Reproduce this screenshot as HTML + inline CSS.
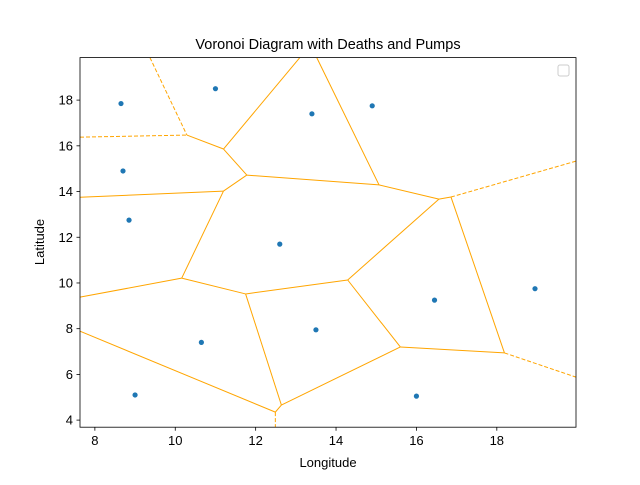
<!DOCTYPE html>
<html><head><meta charset="utf-8"><style>
body{margin:0;background:#fff;}
svg{font-family:"Liberation Sans","DejaVu Sans",sans-serif;}
</style></head><body>
<svg id="chart" width="640" height="480">
<rect width="640" height="480" fill="#fff"/>
<text x="328" y="49" text-anchor="middle" font-size="14.5">Voronoi Diagram with Deaths and Pumps</text>
<g id="edges"></g>
<g id="pts"></g>
<rect x="80" y="57.6" width="496" height="369.6" fill="none" stroke="#000" stroke-width="0.8"/>
<g id="xt"></g>
<g id="yt"></g>
<text x="328" y="467" text-anchor="middle" font-size="13">Longitude</text>
<text transform="translate(44,242) rotate(-90)" text-anchor="middle" font-size="13">Latitude</text>
<rect x="558" y="65" width="11" height="11" rx="2" fill="#fff" stroke="#ccc"/>
</svg>
<script>
const xTicks=[8,10,12,14,16,18];
const yTicks=[4,6,8,10,12,14,16,18];
const pointX=[8.65,11.0,13.4,14.9,8.7,8.85,12.6,16.45,18.95,10.65,13.5,9.0,16.0];
const pointY=[17.85,18.5,17.4,17.75,14.9,12.75,11.7,9.25,9.75,7.4,7.95,5.1,5.05];
const solidEdges=[
[10.29,16.47,11.20,15.86],[11.20,15.86,11.78,14.72],[11.20,15.86,13.10,19.86],
[13.52,19.86,15.07,14.29],[11.78,14.72,11.20,14.02],[11.78,14.72,15.07,14.29],
[15.07,14.29,16.56,13.67],[16.56,13.67,16.86,13.76],[11.20,14.02,7.63,13.75],
[11.20,14.02,10.16,10.21],[10.16,10.21,7.63,9.38],[10.16,10.21,11.75,9.52],
[11.75,9.52,14.29,10.13],[11.75,9.52,12.64,4.66],[14.29,10.13,16.56,13.67],
[14.29,10.13,15.60,7.20],[16.86,13.76,18.19,6.94],[15.60,7.20,18.19,6.94],
[15.60,7.20,12.64,4.66],[12.64,4.66,12.49,4.35],[12.49,4.35,7.63,7.89]];
const dashedEdges=[[9.37,19.86,10.29,16.47],[7.63,16.38,10.29,16.47],[16.86,13.76,19.97,15.33],
[18.19,6.94,19.97,5.88],[12.49,4.35,12.49,3.69]];
const X0=7.63,X1=19.97,Y0=3.69,Y1=19.86;
const sx=v=>80+(v-X0)/(X1-X0)*496;
const sy=v=>427.2-(v-Y0)/(Y1-Y0)*369.6;
const NS='http://www.w3.org/2000/svg';
const mk=(t,a,p)=>{const e=document.createElementNS(NS,t);for(const k in a)e.setAttribute(k,a[k]);p.appendChild(e);return e;};
const eg=document.getElementById('edges');
solidEdges.forEach(s=>{const l=mk('line',{x1:sx(s[0]),y1:sy(s[1]),x2:sx(s[2]),y2:sy(s[3]),stroke:'orange','stroke-width':1},eg);

});
dashedEdges.forEach(s=>{const l=mk('line',{x1:sx(s[0]),y1:sy(s[1]),x2:sx(s[2]),y2:sy(s[3]),stroke:'orange','stroke-width':1,'stroke-dasharray':'4,2'},eg);

});
const pg=document.getElementById('pts');
pointX.forEach((x,i)=>{const c=mk('circle',{cx:sx(x),cy:sy(pointY[i]),r:2.6,fill:'#1f77b4'},pg);

});
const xg=document.getElementById('xt');
xTicks.forEach(v=>{const x=sx(v);mk('line',{x1:x,y1:427.2,x2:x,y2:430.7,stroke:'#000','stroke-width':0.8},xg);
const t=mk('text',{x:x,y:445,'text-anchor':'middle','font-size':13},xg);t.textContent=v;

});
const yg=document.getElementById('yt');
yTicks.forEach(v=>{const y=sy(v);mk('line',{x1:76.5,y1:y,x2:80,y2:y,stroke:'#000','stroke-width':0.8},yg);
const t=mk('text',{x:73,y:y+4.5,'text-anchor':'end','font-size':13},yg);t.textContent=v;

});
</script>
</body></html>
